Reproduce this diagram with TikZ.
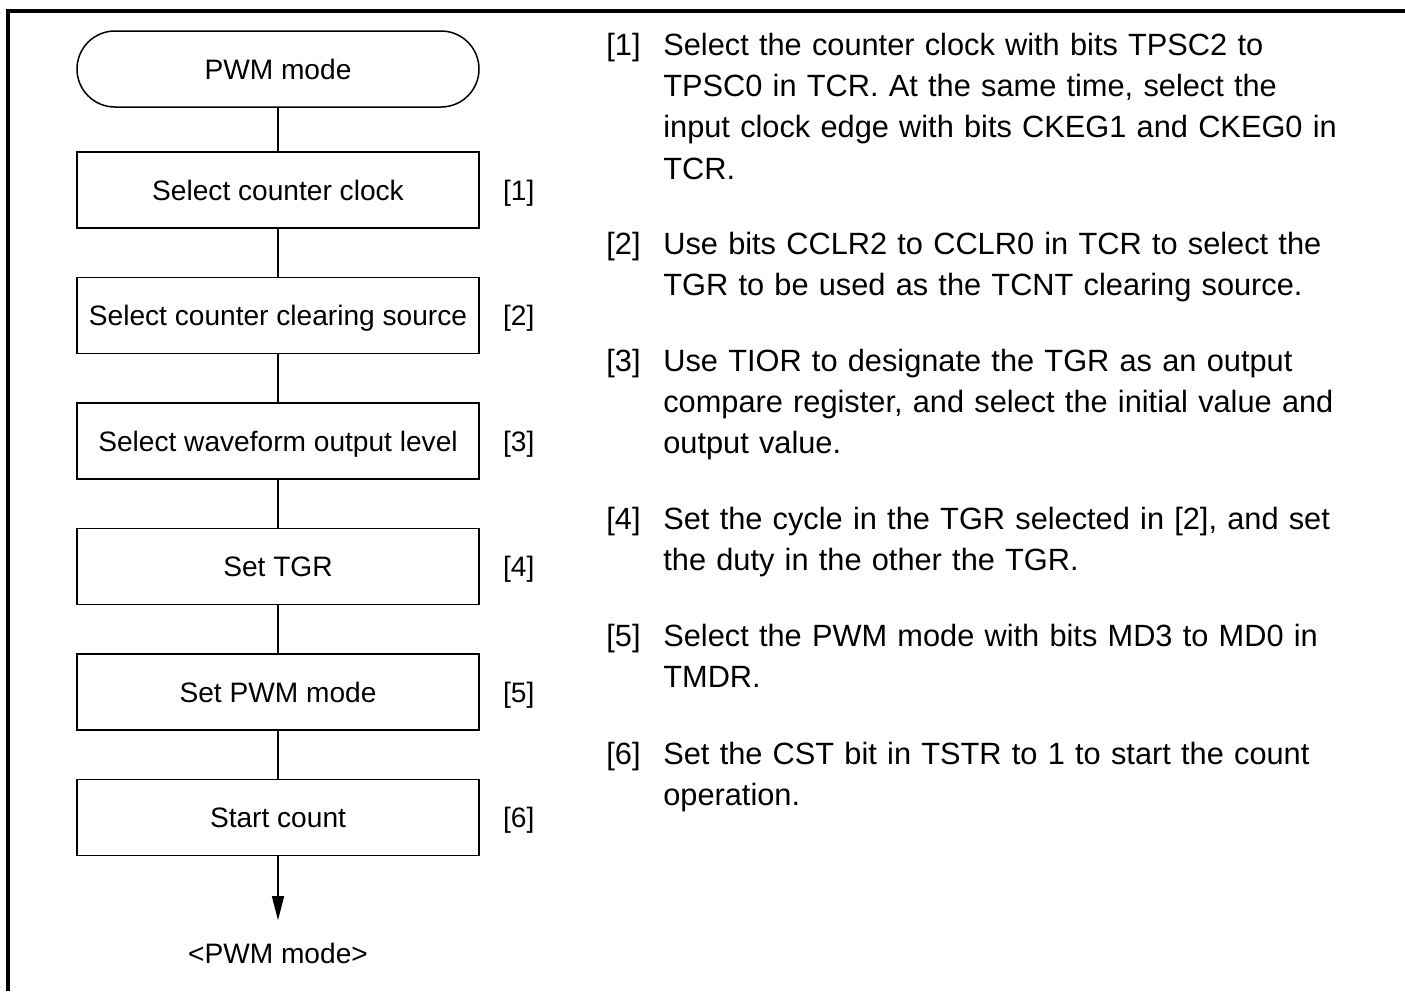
\documentclass[tikz,border=0pt]{standalone}
\usepackage{fontspec}
\setmainfont{Liberation Sans}
\usetikzlibrary{arrows.meta, positioning}

\begin{document}
\begin{tikzpicture}[
		stepbox/.style={rectangle, draw, line width=0.85pt, minimum width=8.04cm, minimum height=1.52cm, inner sep=0pt, text height=11.5pt, text depth=0pt, font=\fontsize{16}{19}\selectfont},
		terminal/.style={stepbox, rounded corners=0.76cm},
		stepnum/.style={inner sep=0pt, text height=11.5pt, text depth=0pt, font=\fontsize{16}{19}\selectfont},
		flow/.style={line width=0.85pt},
		notenum/.style={anchor=base west, inner sep=0pt, font=\fontsize{17.5}{23.6}\selectfont},
		note/.style={anchor=base west, inner sep=0pt, text width=14.6cm, align=left, font=\fontsize{17.5}{23.6}\selectfont},
		frame/.style={line width=2.2pt},
		node distance=0.96cm
		]
		\useasboundingbox (0,0) rectangle (28.1,-19.82);
		\draw [frame] (0.16,-19.82) -- (0.16,-0.22) -- (28.1,-0.22);

		% flow chart
		\node [terminal] (start) at (5.56,-1.38) {PWM mode};
		\node [stepbox] (clock) [below=0.87cm of start] {Select counter clock};
		\node [stepbox] (clear) [below=of clock] {Select counter clearing source};
		\node [stepbox] (level) [below=of clear] {Select waveform output level};
		\node [stepbox] (tgr) [below=of level] {Set TGR};
		\node [stepbox] (pwm) [below=of tgr] {Set PWM mode};
		\node [stepbox] (count) [below=of pwm] {Start count};
		\coordinate [below=1.28cm of count] (end);
		\node [stepnum] (out) [below=0.46cm of end] {<PWM mode>};

		\node [stepnum, right=0.46cm of clock] (n1) {[1]};
		\node [stepnum, right=0.46cm of clear] (n2) {[2]};
		\node [stepnum, right=0.46cm of level] (n3) {[3]};
		\node [stepnum, right=0.46cm of tgr] (n4) {[4]};
		\node [stepnum, right=0.46cm of pwm] (n5) {[5]};
		\node [stepnum, right=0.46cm of count] (n6) {[6]};

		\draw [flow] (start) -- (clock);
		\draw [flow] (clock) -- (clear);
		\draw [flow] (clear) -- (level);
		\draw [flow] (level) -- (tgr);
		\draw [flow] (tgr) -- (pwm);
		\draw [flow] (pwm) -- (count);
		\draw [flow, -{Triangle[length=0.48cm, width=0.24cm]}] (count) -- (end);

		% notes
		\node [notenum] (m1) at (12.12,-1.10) {[1]};
		\node [note] (t1) at (13.26,-1.10) {Select the counter clock with bits TPSC2 to\\TPSC0 in TCR. At the same time, select the\\input clock edge with bits CKEG1 and CKEG0 in\\TCR.};
		\node [notenum] (m2) at (12.12,-5.08) {[2]};
		\node [note] (t2) at (13.26,-5.08) {Use bits CCLR2 to CCLR0 in TCR to select the\\TGR to be used as the TCNT clearing source.};
		\node [notenum] (m3) at (12.12,-7.42) {[3]};
		\node [note] (t3) at (13.26,-7.42) {Use TIOR to designate the TGR as an output\\compare register, and select the initial value and\\output value.};
		\node [notenum] (m4) at (12.12,-10.58) {[4]};
		\node [note] (t4) at (13.26,-10.58) {Set the cycle in the TGR selected in [2], and set\\the duty in the other the TGR.};
		\node [notenum] (m5) at (12.12,-12.92) {[5]};
		\node [note] (t5) at (13.26,-12.92) {Select the PWM mode with bits MD3 to MD0 in\\TMDR.};
		\node [notenum] (m6) at (12.12,-15.28) {[6]};
		\node [note] (t6) at (13.26,-15.28) {Set the CST bit in TSTR to 1 to start the count\\operation.};
	\end{tikzpicture}
\end{document}
